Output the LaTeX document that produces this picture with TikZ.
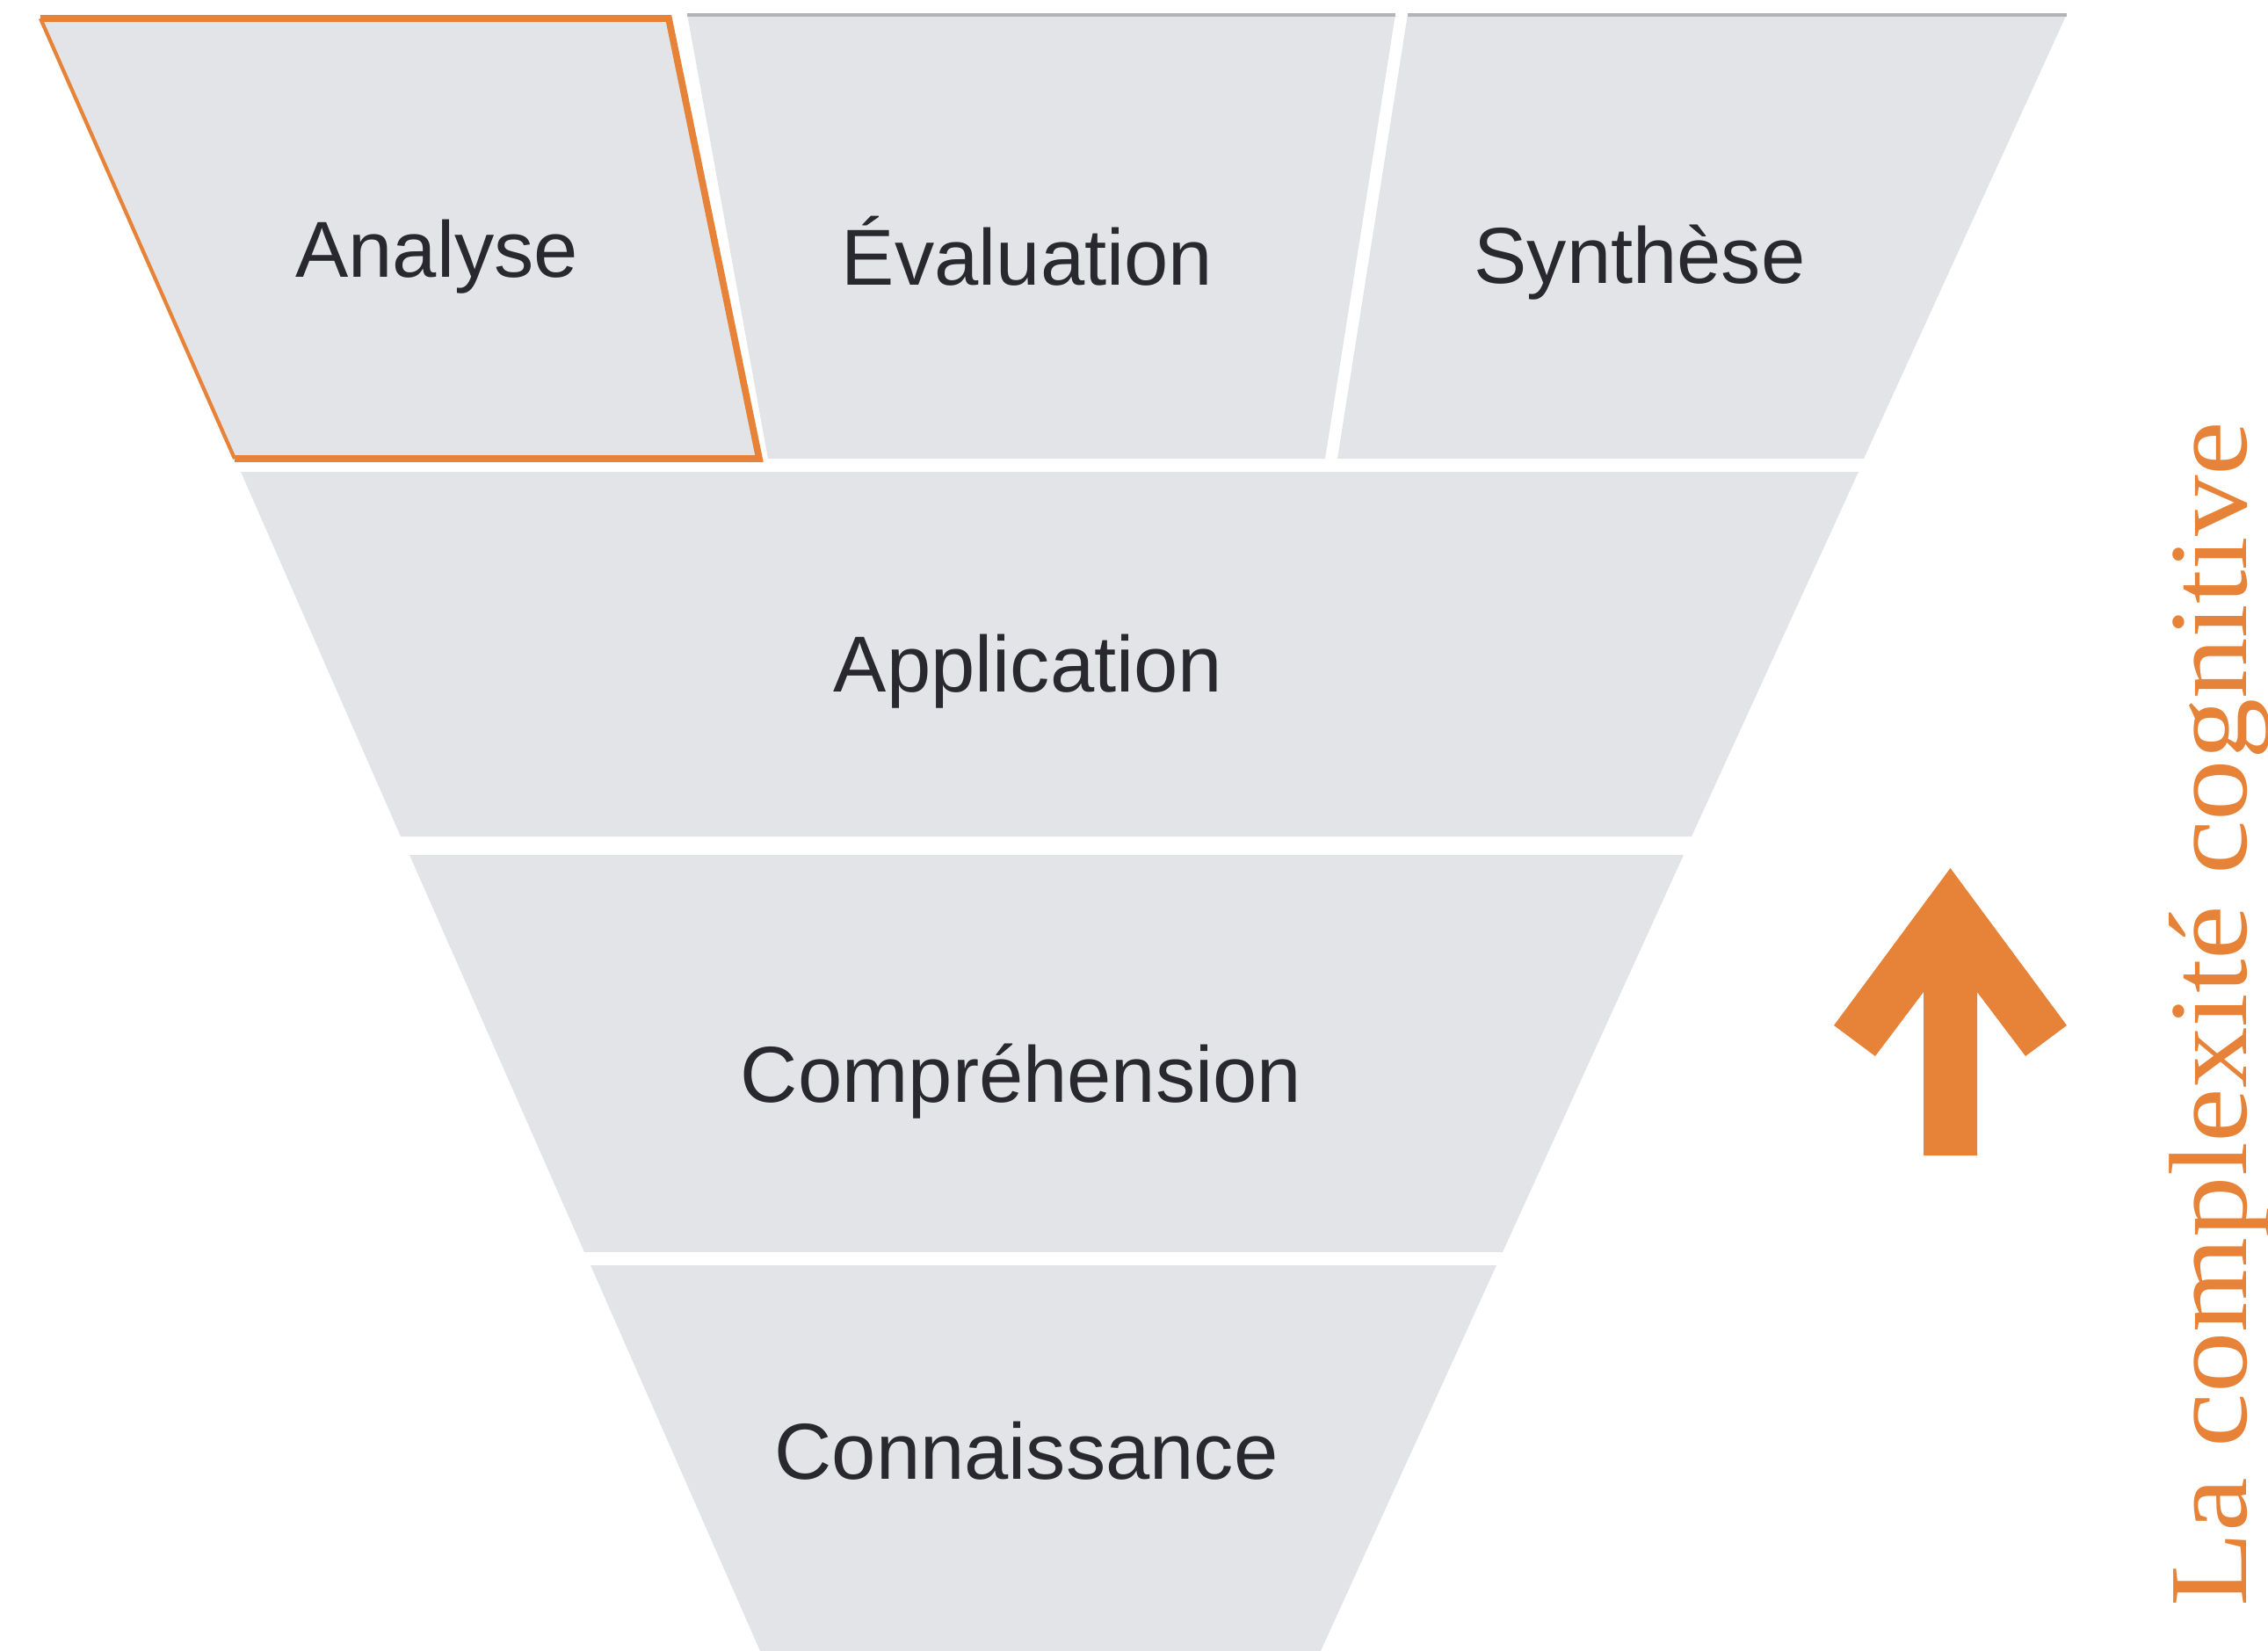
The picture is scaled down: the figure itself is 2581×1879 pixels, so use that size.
\documentclass[tikz,border=0pt]{standalone}
\usepackage{fontspec}
\setmainfont{Liberation Sans}
\newfontfamily\vfont[FakeStretch=1.096]{Liberation Serif}
\definecolor{segfill}{RGB}{226,228,231}
\definecolor{topline}{RGB}{180,180,182}
\definecolor{accent}{RGB}{230,131,56}
\definecolor{lbltext}{RGB}{40,40,46}
\begin{document}
\begin{tikzpicture}[x=0.01cm,y=-0.01cm,
  seg/.style={fill=segfill,draw=none},
  lbl/.style={font=\fontsize{25.7}{30}\selectfont,text=lbltext,anchor=base,inner sep=0pt},
  toprule/.style={draw=topline,line width=1.1pt},
  frame/.style={draw=accent,line width=2.2pt,line join=miter},
  thinframe/.style={draw=accent,line width=1.2pt},
  bigarrow/.style={fill=accent,draw=none}]
\useasboundingbox (0,0) rectangle (2581,1879);
% row 1
\fill[seg] (46,20) -- (761,20) -- (864,522) -- (267,522) -- cycle;
\fill[seg] (782,16) -- (1588,16) -- (1508,522) -- (874,522) -- cycle;
\fill[seg] (1602,16) -- (2352,16) -- (2121,522) -- (1522,522) -- cycle;
\draw[toprule] (782,17) -- (1588,17);
\draw[toprule] (1602,17) -- (2352,17);
\draw[thinframe] (46,21) -- (267,522);
\draw[frame] (46,21) -- (761,21) -- (864,522) -- (267,522);
% row 2
\fill[seg] (274,537) -- (2115,537) -- (1925,952) -- (456,952) -- cycle;
% row 3
\fill[seg] (466,973) -- (1916,973) -- (1710,1425) -- (665,1425) -- cycle;
% row 4
\fill[seg] (672,1440) -- (1703,1440) -- (1503,1879) -- (865,1879) -- cycle;
% labels
\node[lbl] (analyse) at (497,316) {Analyse};
\node[lbl] (evaluation) at (1169,324) {Évaluation};
\node[lbl] (synthese) at (1866,323) {Synthèse};
\node[lbl] (application) at (1170,787) {Application};
\node[lbl] (comprehension) at (1162,1254) {Compréhension};
\node[lbl] (connaissance) at (1168,1683) {Connaissance};
% arrow
\fill[bigarrow] (2219.5,988) -- (2352,1167) -- (2305,1202) -- (2250,1129) -- (2250,1315) -- (2189,1315) -- (2189,1129) -- (2134,1202) -- (2087,1167) -- cycle;
% vertical caption
\node[rotate=90,anchor=base,inner sep=0pt,text=accent,font=\vfont\fontsize{36}{40}\selectfont] (caption) at (2556,1154) {La complexité cognitive};
\end{tikzpicture}
\end{document}
